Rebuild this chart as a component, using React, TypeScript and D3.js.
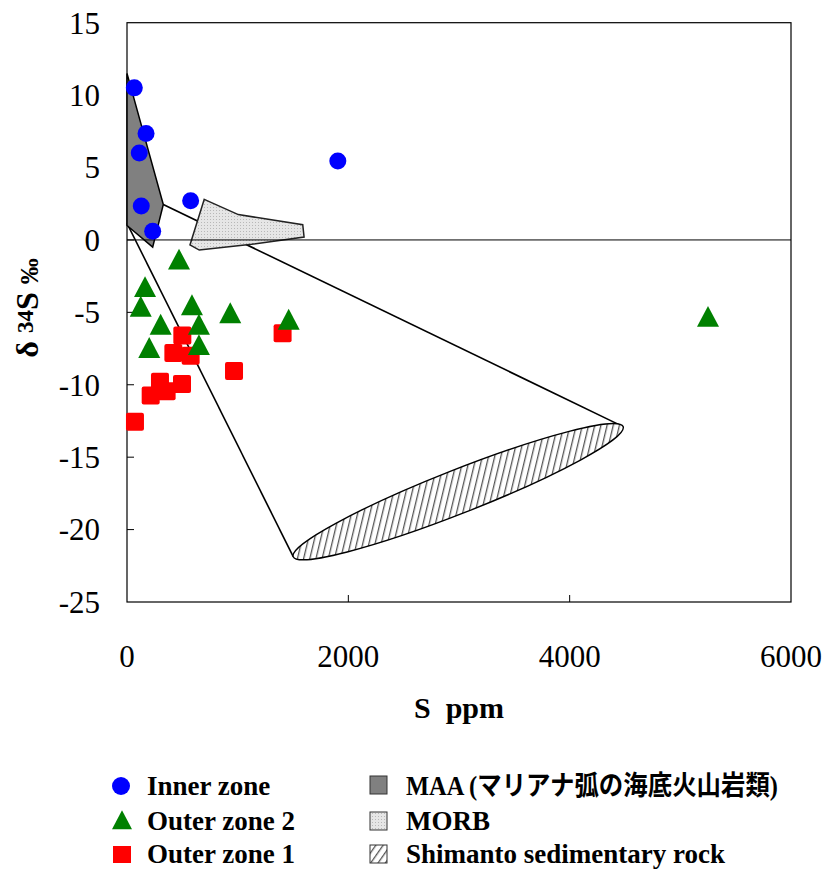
import React from "react";
import * as d3 from "d3";

// ---- data ----
const innerZone: [number, number][] = [
  [66, 10.5], [172, 7.35], [111, 6.0], [129, 2.35], [232, 0.6], [575, 2.7], [1905, 5.45],
];
const outerZone2: [number, number][] = [
  [470, -1.5], [163, -3.4], [124, -4.75], [587, -4.65], [933, -5.2], [1461, -5.65],
  [304, -6.0], [650, -6.0], [201, -7.6], [650, -7.4], [5250, -5.45],
];
const outerZone1: [number, number][] = [
  [500, -6.6], [419, -7.8], [575, -8.0], [298, -9.8], [497, -9.95], [214, -10.75],
  [358, -10.45], [72, -12.55], [967, -9.05], [1406, -6.45],
];
const maaPolygon: [number, number][] = [
  [0, 11.5], [328, 2.45], [232, -0.5], [0, 1.0],
];
const morbPolygon: [number, number][] = [
  [698, 2.8], [1006, 1.75], [1588, 1.05], [1600, 0.2], [1126, -0.3], [653, -0.7], [569, -0.35],
];
const mixingLines: [number, number][][] = [
  [[0, 1.15], [1502, -21.87]],
  [[328, 2.45], [4483, -12.89]],
];
const shimantoEnds: [number, number][] = [[1502, -21.87], [4483, -12.89]];
const shimantoHalfThickness = 1.62; // per mil, vertical

const xTicks = [0, 2000, 4000, 6000];
const yTicks = [15, 10, 5, 0, -5, -10, -15, -20, -25];

const legendLeft = ["Inner zone", "Outer zone 2", "Outer zone 1"];
const legendRight = ["MAA (マリアナ弧の海底火山岩類)", "MORB", "Shimanto sedimentary rock"];

const W = 823, H = 871;
const x = d3.scaleLinear().domain([0, 6000]).range([127, 791]);
const y = d3.scaleLinear().domain([-25, 15]).range([602, 22.7]);

const serif = "'Liberation Serif', 'Times New Roman', 'Noto Sans CJK JP', serif";

function triPath(cx: number, cy: number, s: number) {
  const h = s * 0.95;
  return `M${cx},${cy - h * 0.62} L${cx + s / 2},${cy + h * 0.38} L${cx - s / 2},${cy + h * 0.38} Z`;
}

export default function App() {
  const line = d3.line<[number, number]>().x((d) => x(d[0])).y((d) => y(d[1]));
  const poly = (pts: [number, number][]) => line(pts) + "Z";

  const [p1, p2] = shimantoEnds.map((d) => [x(d[0]), y(d[1])]);
  const cx = (p1[0] + p2[0]) / 2, cy = (p1[1] + p2[1]) / 2;
  const ang = Math.atan2(p2[1] - p1[1], p2[0] - p1[0]);
  const rx = Math.hypot(p2[0] - p1[0], p2[1] - p1[1]) / 2;
  const vThick = Math.abs(y(shimantoHalfThickness) - y(0));
  const ry = vThick * Math.cos(ang);

  const legendRowsY = [786, 821, 854];

  return (
    <svg width={W} height={H} style={{ position: "absolute", left: 0, top: 0, background: "#fff" }}>
      <defs>
        <pattern id="hatch" patternUnits="userSpaceOnUse" width="6" height="6" patternTransform="rotate(35)">
          <rect width="6" height="6" fill="#fff" />
          <line x1="0" y1="0" x2="0" y2="6" stroke="#555" strokeWidth="2.6" />
        </pattern>
        <pattern id="dots" patternUnits="userSpaceOnUse" width="3" height="3">
          <rect width="3" height="3" fill="#e6e6e6" />
          <rect width="1" height="1" fill="#b8b8b8" />
        </pattern>
      </defs>

      {/* plot frame */}
      <rect x={x(0)} y={y(15)} width={x(6000) - x(0)} height={y(-25) - y(15)} fill="none" stroke="#000" strokeWidth={1.2} />

      {/* ticks (inward) */}
      {yTicks.filter((t) => t !== 15 && t !== -25).map((t) => (
        <line key={"yt" + t} x1={x(0)} x2={x(0) + 7} y1={y(t)} y2={y(t)} stroke="#000" strokeWidth={1} />
      ))}
      {xTicks.filter((t) => t !== 0 && t !== 6000).map((t) => (
        <line key={"xt" + t} x1={x(t)} x2={x(t)} y1={y(-25)} y2={y(-25) - 7} stroke="#000" strokeWidth={1} />
      ))}

      {/* mixing lines */}
      {mixingLines.map((l, i) => (
        <path key={"ml" + i} d={line(l) || ""} stroke="#000" strokeWidth={1.6} fill="none" />
      ))}

      {/* Shimanto ellipse */}
      <ellipse cx={cx} cy={cy} rx={rx} ry={ry} transform={`rotate(${(ang * 180) / Math.PI},${cx},${cy})`}
        fill="url(#hatch)" stroke="#000" strokeWidth={1.4} />

      {/* MAA */}
      <path d={poly(maaPolygon)} fill="#808080" stroke="#000" strokeWidth={1.5} />
      {/* MORB */}
      <path d={poly(morbPolygon)} fill="url(#dots)" stroke="#222" strokeWidth={1.5} />

      {/* zero line */}
      <line x1={x(0)} x2={x(6000)} y1={y(0)} y2={y(0)} stroke="#000" strokeWidth={1} />

      {/* points */}
      {outerZone1.map((d, i) => (
        <rect key={"o1" + i} x={x(d[0]) - 9} y={y(d[1]) - 9} width={18} height={18} rx={2} fill="#ff0000" />
      ))}
      {outerZone2.map((d, i) => (
        <path key={"o2" + i} d={triPath(x(d[0]), y(d[1]), 22)} fill="#008000" />
      ))}
      {innerZone.map((d, i) => (
        <circle key={"in" + i} cx={x(d[0])} cy={y(d[1])} r={8.5} fill="#0000ff" />
      ))}

      {/* tick labels */}
      {yTicks.map((t) => (
        <text key={"yl" + t} x={100} y={y(t)} dy="0.35em" textAnchor="end" fontFamily={serif} fontSize={31}>{t}</text>
      ))}
      {xTicks.map((t) => (
        <text key={"xl" + t} x={x(t)} y={656} dy="0.35em" textAnchor="middle" fontFamily={serif} fontSize={31}>{t}</text>
      ))}

      {/* axis titles */}
      <text x={459} y={718} textAnchor="middle" fontFamily={serif} fontSize={30} fontWeight="bold">{"S\u00a0\u00a0ppm"}</text>
      <text transform="translate(38,308) rotate(-90)" textAnchor="middle" fontFamily={serif} fontSize={32} fontWeight="bold">
        δ <tspan fontSize={23} dy={-5}>34</tspan><tspan dy={5}>S</tspan> <tspan fontSize={26}>‰</tspan>
      </text>

      {/* legend */}
      <circle cx={121} cy={legendRowsY[0]} r={9} fill="#0000ff" />
      <path d={triPath(122, legendRowsY[1] + 1, 20)} fill="#008000" />
      <rect x={113} y={legendRowsY[2] - 8} width={18} height={17} fill="#ff0000" />
      {legendLeft.map((t, i) => (
        <text key={"ll" + i} x={147} y={legendRowsY[i] + 9} fontFamily={serif} fontSize={27} fontWeight="bold">{t}</text>
      ))}
      <rect x={370} y={legendRowsY[0] - 10} width={17} height={18} fill="#808080" stroke="#333" strokeWidth={1} />
      <rect x={370} y={legendRowsY[1] - 9} width={17} height={18} fill="url(#dots)" stroke="#333" strokeWidth={1} />
      <rect x={370} y={legendRowsY[2] - 9} width={17} height={18} fill="url(#hatch)" stroke="#333" strokeWidth={1} />
      {legendRight.map((t, i) => (
        <text key={"lr" + i} x={406} y={legendRowsY[i] + 9} fontFamily={serif} fontSize={27} fontWeight="bold"
          {...(i === 0 ? { textLength: 372, lengthAdjust: "spacingAndGlyphs" } : {})}>{t}</text>
      ))}
    </svg>
  );
}
